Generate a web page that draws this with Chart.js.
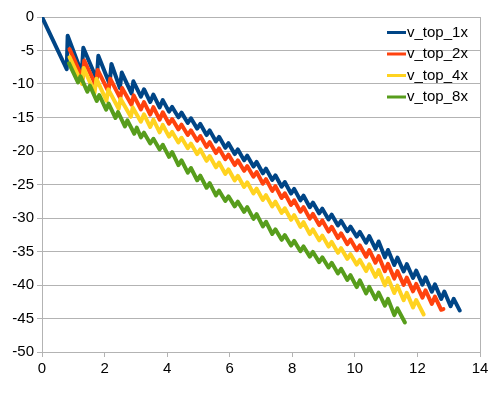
<!DOCTYPE html>
<html>
<head>
<meta charset="utf-8">
<script src="https://cdn.jsdelivr.net/npm/chart.js@4"></script>
<style>
  html, body { margin: 0; padding: 0; background: #fff; }
  #wrap { width: 500px; height: 399px; }
</style>
</head>
<body>
<div id="wrap"><canvas id="c" width="500" height="399"></canvas></div>
<script>
const seriesNames = ['v_top_1x', 'v_top_2x', 'v_top_4x', 'v_top_8x'];
const seriesColors = ['#004586', '#ff420e', '#ffd320', '#579d1c'];
const xTicks = [0, 2, 4, 6, 8, 10, 12, 14];
const yTicks = [0, -5, -10, -15, -20, -25, -30, -35, -40, -45, -50];

const v1x = [[0,0],[0.79,-7.8],[0.82,-2.8],[1.27,-8.4],[1.32,-4.6],[1.75,-9.3],[1.8,-5.8],[2.16,-10.0],[2.22,-7.0],[2.49,-10.6],[2.55,-8.3],[2.86,-11.4],[2.92,-9.6],
[3.16,-11.88],[3.26,-10.78],[3.46,-12.69],[3.56,-11.59],[3.76,-13.5],[3.86,-12.4],
[4.06,-14.13],[4.16,-13.43],[4.36,-14.97],[4.46,-14.27],[4.66,-15.81],[4.76,-15.11],
[4.96,-16.66],[5.06,-15.96],[5.26,-17.62],[5.36,-16.92],[5.56,-18.58],[5.66,-17.88],
[5.86,-19.53],[5.96,-18.83],[6.16,-20.46],[6.26,-19.76],[6.46,-21.4],[6.56,-20.7],
[6.76,-22.33],[6.86,-21.63],[7.06,-23.33],[7.16,-22.63],[7.36,-24.33],[7.46,-23.63],
[7.66,-25.33],[7.76,-24.63],[7.96,-26.35],[8.06,-25.65],[8.26,-27.37],[8.36,-26.67],
[8.56,-28.4],[8.66,-27.7],[8.86,-29.31],[8.96,-28.61],[9.16,-30.21],[9.26,-29.51],
[9.46,-31.12],[9.56,-30.42],[9.76,-31.98],[9.86,-31.28],[10.06,-32.78],[10.16,-32.08],
[10.36,-33.69],[10.46,-32.7],[10.66,-34.6],[10.76,-33.5],[10.96,-35.87],[11.06,-34.77],
[11.26,-37.02],[11.36,-35.92],[11.56,-37.99],[11.66,-36.89],[11.86,-38.96],[11.96,-37.86],
[12.16,-39.94],[12.26,-38.84],[12.46,-41.01],[12.56,-39.91],[12.76,-42.08],[12.86,-40.98],
[13.06,-43.16],[13.16,-42.06],[13.35,-43.8]];

const v2x = [[0.88,-4.8],[1.3,-9.2],[1.35,-6.5],[1.72,-10.2],[1.78,-7.9],[2.12,-11.1],[2.18,-9.2],[2.5,-12.1],[2.56,-10.6],[2.86,-13.1],[2.93,-11.7],
[3.16,-13.79],[3.26,-12.69],[3.46,-14.56],[3.56,-13.46],[3.76,-15.32],[3.86,-14.22],
[4.06,-15.93],[4.16,-15.23],[4.36,-16.77],[4.46,-16.07],[4.66,-17.61],[4.76,-16.91],
[4.96,-18.46],[5.06,-17.76],[5.26,-19.39],[5.36,-18.69],[5.56,-20.31],[5.66,-19.61],
[5.86,-21.23],[5.96,-20.53],[6.16,-22.1],[6.26,-21.4],[6.46,-22.96],[6.56,-22.26],
[6.76,-23.84],[6.86,-23.14],[7.06,-24.89],[7.16,-24.19],[7.36,-25.95],[7.46,-25.25],
[7.66,-27.01],[7.76,-26.31],[7.96,-28.05],[8.06,-27.35],[8.26,-29.07],[8.36,-28.37],
[8.56,-30.1],[8.66,-29.4],[8.86,-31.06],[8.96,-30.36],[9.16,-32.02],[9.26,-31.32],
[9.46,-32.99],[9.56,-32.29],[9.76,-33.91],[9.86,-33.21],[10.06,-34.8],[10.16,-34.1],
[10.36,-35.79],[10.46,-34.79],[10.66,-36.68],[10.76,-35.68],[10.96,-37.95],[11.06,-36.85],
[11.26,-39.04],[11.36,-37.94],[11.56,-39.99],[11.66,-38.89],[11.86,-40.94],[11.96,-39.84],
[12.16,-41.88],[12.26,-40.78],[12.46,-42.83],[12.56,-41.73],[12.76,-43.7],[12.83,-43.6]];

const v4x = [[0.88,-6.0],[1.28,-10.0],[1.33,-7.6],[1.68,-11.3],[1.74,-9.2],[2.06,-12.5],[2.12,-10.8],[2.45,-13.7],[2.51,-12.2],[2.84,-14.9],[2.9,-13.5],
[3.16,-15.62],[3.26,-14.52],[3.46,-16.42],[3.56,-15.32],[3.76,-17.21],[3.86,-16.11],
[4.06,-17.85],[4.16,-17.15],[4.36,-18.72],[4.46,-18.02],[4.66,-19.59],[4.76,-18.89],
[4.96,-20.47],[5.06,-19.77],[5.26,-21.46],[5.36,-20.76],[5.56,-22.44],[5.66,-21.74],
[5.86,-23.43],[5.96,-22.73],[6.16,-24.4],[6.26,-23.7],[6.46,-25.37],[6.56,-24.67],
[6.76,-26.33],[6.86,-25.63],[7.06,-27.3],[7.16,-26.6],[7.36,-28.27],[7.46,-27.57],
[7.66,-29.25],[7.76,-28.55],[7.96,-30.27],[8.06,-29.57],[8.26,-31.33],[8.36,-30.63],
[8.56,-32.4],[8.66,-31.7],[8.86,-33.33],[8.96,-32.63],[9.16,-34.27],[9.26,-33.57],
[9.46,-35.2],[9.56,-34.5],[9.76,-36.1],[9.86,-35.4],[10.06,-36.96],[10.16,-36.26],
[10.36,-37.92],[10.46,-36.92],[10.66,-38.78],[10.76,-37.78],[10.96,-40.05],[11.06,-38.95],
[11.26,-41.2],[11.36,-40.1],[11.56,-42.27],[11.66,-41.17],[11.86,-43.34],[11.96,-42.24],
[12.2,-44.4]];

const v8x = [[0.86,-6.9],[1.15,-9.76],[1.23,-8.86],[1.45,-11.15],[1.53,-10.25],[1.75,-12.54],[1.83,-11.64],[2.05,-13.83],[2.13,-12.93],[2.35,-15.08],[2.43,-14.18],[2.65,-16.33],[2.73,-15.43],[2.95,-17.42],[3.03,-16.52],
[3.16,-17.96],[3.26,-17.26],[3.46,-18.87],[3.56,-18.17],[3.76,-19.77],[3.86,-19.07],
[4.06,-20.87],[4.16,-20.17],[4.36,-22.1],[4.46,-21.4],[4.66,-23.24],[4.76,-22.54],
[4.96,-24.37],[5.06,-23.67],[5.26,-25.49],[5.36,-24.79],[5.56,-26.62],[5.66,-25.92],
[5.86,-27.46],[5.96,-26.76],[6.16,-28.27],[6.26,-27.57],[6.46,-29.08],[6.56,-28.38],
[6.76,-30.13],[6.86,-29.43],[7.06,-31.26],[7.16,-30.56],[7.36,-32.39],[7.46,-31.69],
[7.66,-33.26],[7.76,-32.56],[7.96,-34.11],[8.06,-33.41],[8.26,-34.95],[8.36,-34.25],
[8.56,-35.77],[8.66,-35.07],[8.86,-36.58],[8.96,-35.88],[9.16,-37.39],[9.26,-36.69],
[9.46,-38.28],[9.56,-37.58],[9.76,-39.24],[9.86,-38.54],[10.06,-40.31],[10.16,-39.31],
[10.36,-41.27],[10.46,-40.27],[10.66,-42.12],[10.76,-41.12],[10.96,-43.08],[11.06,-42.08],
[11.26,-44.49],[11.36,-43.49],[11.6,-45.6]];

const allSeries = [v1x, v2x, v4x, v8x];
const FONT = 'Liberation Sans, Arial, sans-serif';
const GRID = '#b3b3b3';

const legendPlugin = {
  id: 'insideLegend',
  afterDraw(chart) {
    const ctx = chart.ctx;
    const ca = chart.chartArea;
    ctx.save();
    ctx.font = '15px ' + FONT;
    ctx.textBaseline = 'middle';
    ctx.textAlign = 'left';
    const rowY = [32.5, 54, 75.5, 97];
    seriesNames.forEach((name, i) => {
      const y = rowY[i];
      ctx.strokeStyle = seriesColors[i];
      ctx.lineWidth = 3;
      ctx.beginPath();
      ctx.moveTo(ca.right - 93, y);
      ctx.lineTo(ca.right - 74, y);
      ctx.stroke();
      ctx.fillStyle = '#000';
      ctx.fillText(name, ca.right - 73, y);
    });
    ctx.restore();
  }
};

new Chart(document.getElementById('c'), {
  type: 'line',
  data: {
    datasets: allSeries.map((s, i) => ({
      label: seriesNames[i],
      data: s.map(p => ({ x: p[0], y: p[1] })),
      borderColor: seriesColors[i],
      backgroundColor: seriesColors[i],
      borderWidth: 4,
      borderJoinStyle: 'round',
      borderCapStyle: 'round',
      pointRadius: 0,
      tension: 0,
      fill: false,
      order: 3 - i
    }))
  },
  options: {
    responsive: false,
    animation: false,
    devicePixelRatio: 1,
    layout: { padding: { top: 17, right: 20, bottom: 0, left: 0 } },
    plugins: { legend: { display: false }, tooltip: { enabled: false } },
    scales: {
      x: {
        type: 'linear',
        min: 0, max: 14,
        afterBuildTicks: s => { s.ticks = xTicks.map(v => ({ value: v })); },
        afterFit: s => { s.height = 47; },
        ticks: { color: '#000', font: { family: FONT, size: 15 }, padding: 3, maxRotation: 0 },
        grid: {
          color: ctx => (ctx.tick && ctx.tick.value === 14) ? GRID : 'rgba(0,0,0,0)',
          tickColor: GRID, tickLength: 5, lineWidth: 1
        },
        border: { color: GRID, width: 1 }
      },
      y: {
        type: 'linear',
        min: -50, max: 0,
        afterBuildTicks: s => { s.ticks = yTicks.map(v => ({ value: v })); },
        afterFit: s => { s.width = 42; },
        ticks: { color: '#000', font: { family: FONT, size: 15 }, padding: 3 },
        grid: { color: GRID, tickColor: GRID, tickLength: 5, lineWidth: 1 },
        border: { color: GRID, width: 1 }
      }
    }
  },
  plugins: [legendPlugin]
});
</script>
</body>
</html>
